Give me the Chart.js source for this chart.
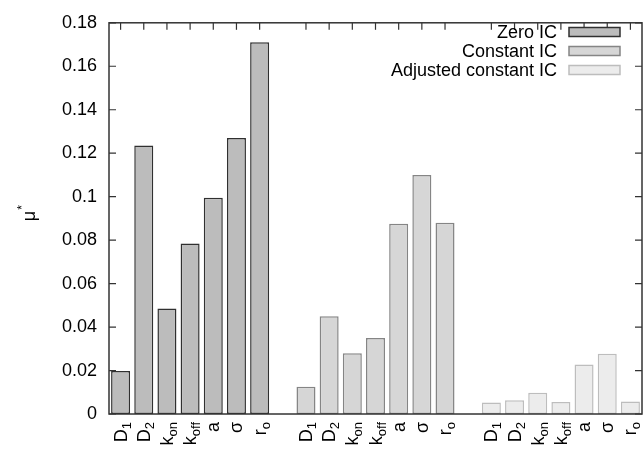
<!DOCTYPE html>
<html>
<head>
<meta charset="utf-8">
<script src="https://cdn.jsdelivr.net/npm/chart.js@4/dist/chart.umd.min.js"></script>
<style>
html,body{margin:0;padding:0;background:#fff;}
#wrap{width:643px;height:453px;position:relative;}
</style>
</head>
<body>
<div id="wrap"><canvas id="c" width="643" height="453"></canvas></div>
<script>
// ---- data ----
const params = ['D1', 'D2', 'kon', 'koff', 'a', 'σ', 'r0'];
const seriesNames = ['Zero IC', 'Constant IC', 'Adjusted constant IC'];
const zeroIC = [0.0198, 0.1235, 0.0485, 0.0785, 0.0995, 0.127, 0.171];
const constantIC = [0.0125, 0.045, 0.028, 0.035, 0.0875, 0.110, 0.088];
const adjustedIC = [0.0053, 0.0063, 0.0098, 0.0055, 0.0228, 0.0277, 0.0058];
const yTicks = [0, 0.02, 0.04, 0.06, 0.08, 0.1, 0.12, 0.14, 0.16, 0.18];

// rich label parts (main + subscript)
const labelParts = {
  'D1': [['D', false], ['1', true]],
  'D2': [['D', false], ['2', true]],
  'kon': [['k', false], ['on', true]],
  'koff': [['k', false], ['off', true]],
  'a': [['a', false]],
  'σ': [['σ', false]],
  'r0': [['r', false], ['o', true]]
};

// build slots: 7 + gap + 7 + gap + 7
const allSeries = [zeroIC, constantIC, adjustedIC];
const labels = [];
const dsData = allSeries.map(() => []);
allSeries.forEach((vals, g) => {
  if (g > 0) { labels.push(''); dsData.forEach(d => d.push(null)); }
  params.forEach((p, i) => {
    labels.push(p);
    dsData.forEach((d, k) => d.push(k === g ? vals[i] : null));
  });
});

const fills = ['#bcbcbc', '#d6d6d6', '#ececec'];
const borders = ['#303030', '#858585', '#bdbdbd'];
const FONT = '"Liberation Sans", Arial, Helvetica, sans-serif';
const AXIS = '#333';

const custom = {
  id: 'custom',
  afterDraw(chart) {
    const ctx = chart.ctx;
    const a = chart.chartArea;
    const xs = chart.scales.x, ys = chart.scales.y;
    ctx.save();
    // frame
    ctx.strokeStyle = AXIS;
    ctx.lineWidth = 1.5;
    ctx.strokeRect(a.left, a.top, a.right - a.left, a.bottom - a.top);
    // y ticks inward, both sides
    ctx.lineWidth = 1.2;
    yTicks.forEach(v => {
      const y = ys.getPixelForValue(v);
      ctx.beginPath();
      ctx.moveTo(a.left, y); ctx.lineTo(a.left + 7, y);
      ctx.moveTo(a.right, y); ctx.lineTo(a.right - 7, y);
      ctx.stroke();
    });
    // x ticks at top (inward)
    labels.forEach((l, i) => {
      if (!l) return;
      const x = xs.getPixelForValue(i);
      ctx.beginPath();
      ctx.moveTo(x, a.top); ctx.lineTo(x, a.top + 7);
      ctx.stroke();
    });
    // x labels rotated with subscripts
    ctx.fillStyle = '#000';
    labels.forEach((l, i) => {
      if (!l) return;
      const parts = labelParts[l];
      const x = xs.getPixelForValue(i);
      let w = 0;
      parts.forEach(([t, sub]) => {
        ctx.font = (sub ? '13px ' : '18px ') + FONT;
        w += ctx.measureText(t).width;
      });
      ctx.save();
      ctx.translate(x, a.bottom + 8);
      ctx.rotate(-Math.PI / 2);
      let cx = -w;
      ctx.textBaseline = 'alphabetic';
      parts.forEach(([t, sub]) => {
        ctx.font = (sub ? '13px ' : '18px ') + FONT;
        ctx.fillText(t, cx, sub ? 10 : 6);
        cx += ctx.measureText(t).width;
      });
      ctx.restore();
    });
    // y axis title μ*
    ctx.save();
    ctx.translate(30, 214);
    ctx.rotate(-Math.PI / 2);
    ctx.font = '18px ' + FONT;
    ctx.textAlign = 'left';
    ctx.textBaseline = 'middle';
    const mw = ctx.measureText('μ').width;
    ctx.fillText('μ', -mw / 2 - 2, 0);
    ctx.font = '12px ' + FONT;
    ctx.fillText('*', mw / 2 - 1, -7);
    ctx.restore();
    // legend (text right-aligned, sample on right)
    const rowY = [32, 51, 70];
    chart.data.datasets.forEach((ds, k) => {
      const y = rowY[k];
      ctx.font = '18px ' + FONT;
      ctx.textAlign = 'right';
      ctx.textBaseline = 'middle';
      ctx.fillStyle = '#000';
      ctx.fillText(ds.label, 557, y + 1);
      ctx.fillStyle = ds.backgroundColor;
      ctx.fillRect(569, y - 4.5, 51, 9);
      ctx.strokeStyle = ds.borderColor;
      ctx.lineWidth = 1.5;
      ctx.strokeRect(569, y - 4.5, 51, 9);
    });
    ctx.restore();
  }
};

new Chart(document.getElementById('c'), {
  type: 'bar',
  data: {
    labels: labels,
    datasets: dsData.map((d, k) => ({
      label: seriesNames[k],
      data: d,
      backgroundColor: fills[k],
      borderColor: borders[k],
      borderWidth: 1.5,
      borderSkipped: false,
      grouped: false,
      barPercentage: 0.82,
      categoryPercentage: 1.0
    }))
  },
  options: {
    responsive: false,
    animation: false,
    devicePixelRatio: 1,
    layout: { padding: { top: 17, right: 1, left: 0, bottom: 0 } },
    plugins: { legend: { display: false }, tooltip: { enabled: false } },
    scales: {
      x: {
        type: 'category',
        offset: true,
        grid: { display: false, drawTicks: false },
        border: { display: false },
        ticks: { display: false },
        afterFit(s) { s.height = 39; }
      },
      y: {
        min: 0, max: 0.18,
        grid: { display: false, drawTicks: false },
        border: { display: false },
        ticks: {
          stepSize: 0.02,
          padding: 12,
          color: '#000',
          font: { family: FONT, size: 18 },
          callback: v => String(parseFloat(Number(v).toFixed(2)))
        },
        afterFit(s) { s.width = 109; }
      }
    }
  },
  plugins: [custom]
});
</script>
</body>
</html>
